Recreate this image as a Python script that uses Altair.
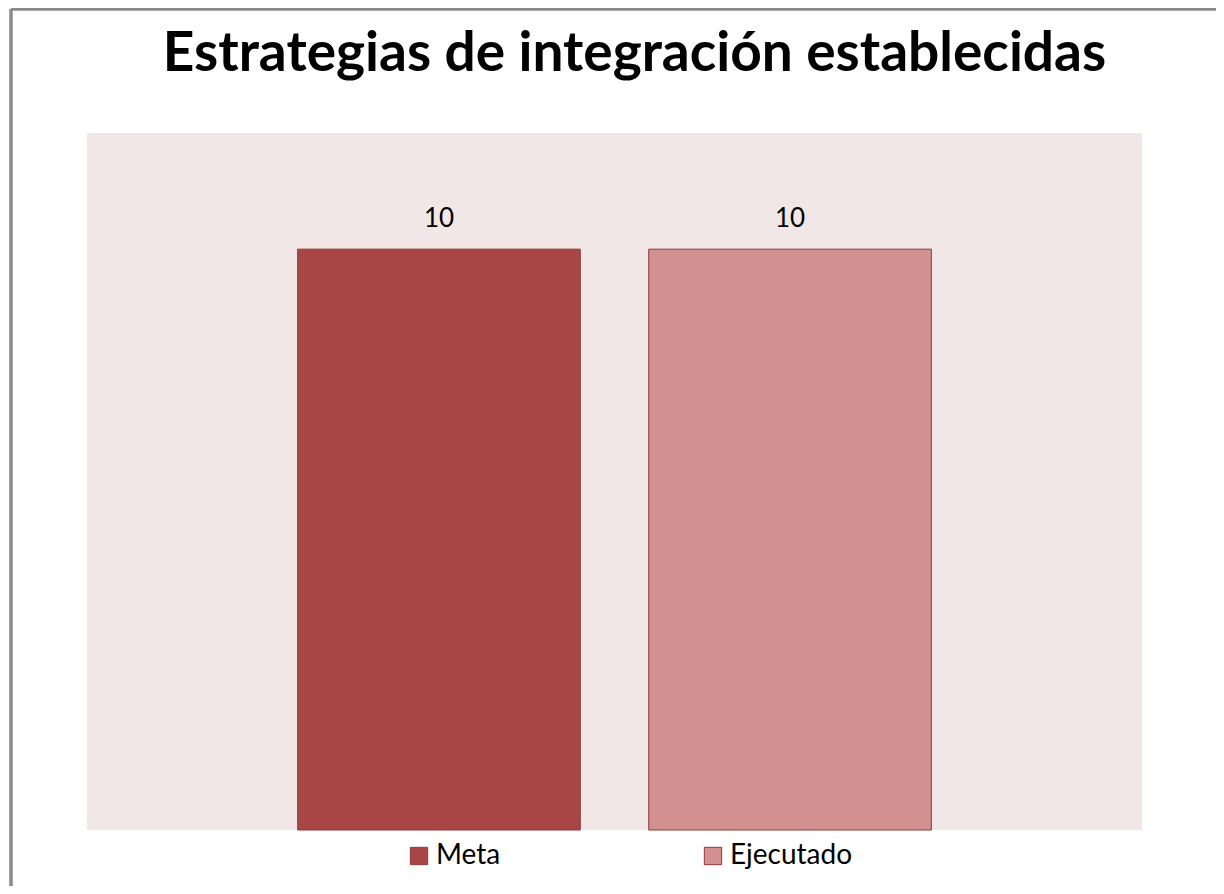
import altair as alt
import pandas as pd

categories = ["Meta", "Ejecutado"]
values = [10, 10]
colors = ["#A84646", "#D39090"]

df = pd.DataFrame({"serie": categories, "valor": values})

FONT = "Lato"

x_enc = alt.X("serie:N", sort=categories, axis=None,
              scale=alt.Scale(paddingInner=0.195, paddingOuter=0.6))
y_enc = alt.Y("valor:Q", axis=None, scale=alt.Scale(domain=[0, 12], nice=False))

bars = alt.Chart(df).mark_bar(stroke="#8E3A3A", strokeWidth=1, opacity=1).encode(
    x=x_enc,
    y=y_enc,
    color=alt.Color(
        "serie:N",
        sort=categories,
        scale=alt.Scale(domain=categories, range=colors),
        legend=alt.Legend(
            title=None,
            orient="none",
            direction="horizontal",
            legendX=318,
            legendY=709,
            symbolType="square",
            symbolSize=300,
            symbolStrokeColor="#8E3A3A",
            symbolStrokeWidth=1,
            labelFont=FONT,
            labelFontSize=28,
            labelColor="#000000",
            labelOffset=3,
            columnPadding=198,
        ),
    ),
)

labels = alt.Chart(df).mark_text(
    font=FONT, fontSize=26, color="#000000", baseline="alphabetic", dy=-22
).encode(x=x_enc, y=y_enc, text=alt.Text("valor:Q"))

# outer frame of the chart (top and left edges visible)
frame_top = alt.Chart(df).mark_rule(color="#8A8A8A", strokeWidth=3).encode(
    x=alt.value(-76), x2=alt.value(1129), y=alt.value(-124)
)
frame_left = alt.Chart(df).mark_rule(color="#8A8A8A", strokeWidth=3).encode(
    x=alt.value(-76), y=alt.value(-124), y2=alt.value(753)
)

chart = alt.layer(bars, labels, frame_top, frame_left).properties(
    width=1055,
    height=697,
    title=alt.Title(
        "Estrategias de integración establecidas",
        font=FONT,
        fontSize=55,
        fontWeight="bold",
        color="#000000",
        anchor="middle",
        baseline="alphabetic",
        dx=20,
        offset=-118,
    ),
    autosize=alt.AutoSizeParams(type="none"),
    padding={"left": 79, "top": 125, "right": 74, "bottom": 56},
).configure(
    background="#FFFFFF"
).configure_view(
    fill="#F2E7E7", stroke=None
)

chart.save("out.html", embed_options={"renderer": "svg", "actions": False})
